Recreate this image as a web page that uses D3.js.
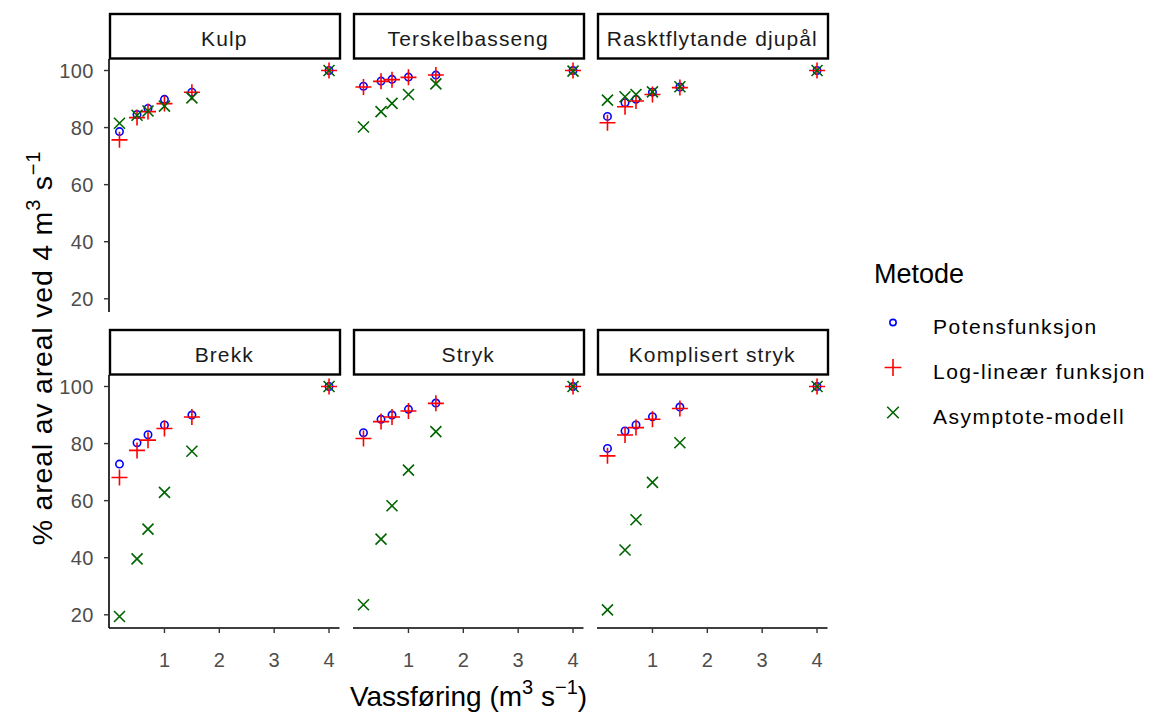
<!DOCTYPE html>
<html>
<head>
<meta charset="utf-8">
<script src="https://cdn.jsdelivr.net/npm/d3@7"></script>
<style>
  html, body { margin: 0; padding: 0; background: #fff; }
  svg { display: block; font-family: "Liberation Sans", Arial, sans-serif; }
</style>
</head>
<body>
<svg id="chart" width="1150" height="717"></svg>
<script>
// Facet panels (habitat types)
const facets = ["Kulp", "Terskelbasseng", "Rasktflytande djupål", "Brekk", "Stryk", "Komplisert stryk"];
// Discharge values (m3/s)
const discharge = [0.18, 0.5, 0.7, 1.0, 1.5, 4.0];
// % area relative to area at 4 m3/s, one row per facet
const potens = [
  [78.6, 84.6, 86.7, 89.9, 92.4, 100],
  [94.5, 96.3, 96.9, 97.7, 98.4, 100],
  [83.9, 88.7, 89.9, 92.4, 94.2, 100],
  [72.8, 80.3, 83.1, 86.5, 90.0, 100],
  [83.8, 88.5, 90.0, 92.0, 94.2, 100],
  [78.3, 84.4, 86.5, 89.4, 92.8, 100]
];
const loglin = [
  [75.7, 83.5, 85.6, 88.4, 92.4, 100],
  [94.2, 96.2, 96.8, 97.6, 98.4, 100],
  [81.7, 87.3, 89.3, 91.6, 94.0, 100],
  [68.1, 77.6, 81.2, 85.3, 89.3, 100],
  [81.8, 87.7, 89.3, 91.4, 94.1, 100],
  [75.7, 83.0, 85.6, 88.5, 92.3, 100]
];
const asymptote = [
  [81.5, 84.3, 85.8, 87.5, 90.4, 100],
  [80.2, 85.6, 88.5, 91.6, 95.3, 99.8],
  [89.6, 90.8, 91.6, 92.5, 94.3, 100],
  [19.4, 39.6, 50.0, 62.9, 77.3, 100],
  [23.5, 46.5, 58.2, 70.7, 84.2, 100],
  [21.7, 42.7, 53.3, 66.4, 80.3, 100]
];
const methods = ["Potensfunksjon", "Log-lineær funksjon", "Asymptote-modell"];
const methodValues = [potens, loglin, asymptote];
const methodColors = ["#0000FF", "#FF0000", "#006400"];
const xTicks = [1, 2, 3, 4];
const yTicks = [20, 40, 60, 80, 100];

const svg = d3.select("#chart");

// Layout
const panelW = 230.5, panelH = 253, colStep = 244;
const colX = [109, 109 + colStep, 109 + 2 * colStep];
const rowY = [59, 375];
const stripH = 46;

// Shared scales with 5% expansion on both ends
function expand(ext) { const r = ext[1] - ext[0]; return [ext[0] - 0.05 * r, ext[1] + 0.05 * r]; }
const allY = methodValues.flat(2);
const x = d3.scaleLinear().domain(expand(d3.extent(discharge))).range([0, panelW]);
const y = d3.scaleLinear().domain(expand(d3.extent(allY))).range([panelH, 0]);

// Symbol shapes: open circle, plus, cross
function drawSymbol(g, m, cx, cy, color, scale) {
  const s = scale || 1;
  if (m === 0) {
    g.append("circle").attr("cx", cx).attr("cy", cy).attr("r", 3.7 * s)
      .attr("fill", "none").attr("stroke", color).attr("stroke-width", 1.6);
  } else if (m === 1) {
    const a = 8 * s;
    g.append("path").attr("d", `M${cx - a},${cy}H${cx + a}M${cx},${cy - a}V${cy + a}`)
      .attr("stroke", color).attr("stroke-width", 1.6).attr("fill", "none");
  } else {
    const a = 5.5 * s;
    g.append("path").attr("d", `M${cx - a},${cy - a}L${cx + a},${cy + a}M${cx - a},${cy + a}L${cx + a},${cy - a}`)
      .attr("stroke", color).attr("stroke-width", 1.6).attr("fill", "none");
  }
}

facets.forEach((name, i) => {
  const col = i % 3, row = Math.floor(i / 3);
  const px = colX[col], py = rowY[row];

  // Strip
  const strip = svg.append("g").attr("transform", `translate(${px},${py - stripH})`);
  strip.append("rect").attr("x", 1).attr("y", 1).attr("width", panelW - 0.5).attr("height", stripH - 1.5)
    .attr("fill", "#fff").attr("stroke", "#000").attr("stroke-width", 2.4);
  strip.append("text").attr("x", panelW / 2).attr("y", 33)
    .attr("text-anchor", "middle").attr("font-size", 21).attr("letter-spacing", 1.1)
    .attr("fill", "#1A1A1A").text(name);

  const g = svg.append("g").attr("transform", `translate(${px},${py})`);

  // Y axis on left column
  if (col === 0) {
    g.append("line").attr("x1", 0).attr("x2", 0).attr("y1", 0).attr("y2", panelH)
      .attr("stroke", "#000").attr("stroke-width", 1.6);
    yTicks.forEach(t => {
      g.append("line").attr("x1", -5).attr("x2", 0).attr("y1", y(t)).attr("y2", y(t))
        .attr("stroke", "#333").attr("stroke-width", 1.4);
      g.append("text").attr("x", -15).attr("y", y(t) + 7.5).attr("text-anchor", "end")
        .attr("font-size", 20).attr("letter-spacing", 0.5).attr("fill", "#4D4D4D").text(t);
    });
  }
  // X axis on bottom row
  if (row === 1) {
    g.append("line").attr("x1", 0).attr("x2", panelW).attr("y1", panelH).attr("y2", panelH)
      .attr("stroke", "#000").attr("stroke-width", 1.6);
    xTicks.forEach(t => {
      g.append("line").attr("x1", x(t)).attr("x2", x(t)).attr("y1", panelH).attr("y2", panelH + 5)
        .attr("stroke", "#333").attr("stroke-width", 1.4);
      g.append("text").attr("x", x(t)).attr("y", panelH + 39).attr("text-anchor", "middle")
        .attr("font-size", 20).attr("fill", "#4D4D4D").text(t);
    });
  }

  // Points
  methodValues.forEach((vals, m) => {
    vals[i].forEach((v, k) => drawSymbol(g, m, x(discharge[k]), y(v), methodColors[m]));
  });
});

// Axis titles
const xt = svg.append("text").attr("x", 468.5).attr("y", 706).attr("text-anchor", "middle")
  .attr("font-size", 28).attr("fill", "#000");
xt.append("tspan").text("Vassføring (m");
xt.append("tspan").attr("dy", -12).attr("font-size", 20).text("3");
xt.append("tspan").attr("dy", 12).text(" s");
xt.append("tspan").attr("dy", -12).attr("font-size", 20).text("−1");
xt.append("tspan").attr("dy", 12).text(")");

const yt = svg.append("text").attr("transform", "translate(52,348) rotate(-90)")
  .attr("text-anchor", "middle").attr("font-size", 28.5).attr("letter-spacing", 0.8).attr("fill", "#000");
yt.append("tspan").text("% areal av areal ved 4 m");
yt.append("tspan").attr("dy", -12).attr("font-size", 20).text("3");
yt.append("tspan").attr("dy", 12).text(" s");
yt.append("tspan").attr("dy", -12).attr("font-size", 20).text("−1");

// Legend
const lg = svg.append("g");
lg.append("text").attr("x", 874).attr("y", 283).attr("font-size", 27).attr("fill", "#000").text("Metode");
methods.forEach((mName, m) => {
  const base = 333.5 + m * 45;
  drawSymbol(lg, m, 893, base - 11, methodColors[m], m === 0 ? 0.85 : 1.05);
  lg.append("text").attr("x", 933).attr("y", base).attr("font-size", 21).attr("letter-spacing", 1.5)
    .attr("fill", "#000").text(mName);
});
</script>
</body>
</html>
